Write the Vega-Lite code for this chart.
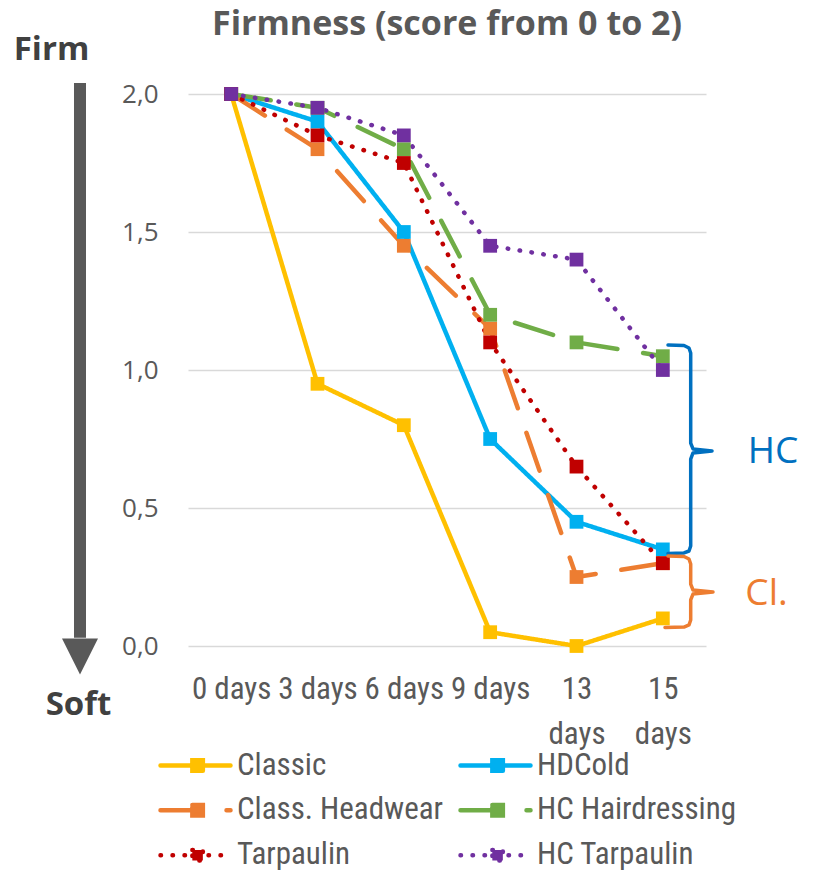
{
  "$schema": "https://vega.github.io/schema/vega-lite/v6.json",
  "width": 518,
  "height": 552,
  "autosize": {"type": "none"},
  "padding": {"left": 188, "top": 94, "right": 107, "bottom": 224},
  "background": "white",
  "config": {"view": {"stroke": null}},
  "title": {"text": "Firmness (score from 0 to 2)", "font": "Open Sans", "fontWeight": "bold", "fontSize": 34, "color": "#595959", "anchor": "middle", "offset": -8},
  "resolve": {"scale": {"x": "independent"}, "axis": {"x": "independent"}},
  "layer": [
    {
      "data": {"values": [
        {"day": "0 days", "series": "Classic", "score": 2.0},
        {"day": "3 days", "series": "Classic", "score": 0.95},
        {"day": "6 days", "series": "Classic", "score": 0.8},
        {"day": "9 days", "series": "Classic", "score": 0.05},
        {"day": "13 days", "series": "Classic", "score": 0.0},
        {"day": "15 days", "series": "Classic", "score": 0.1},
        {"day": "0 days", "series": "HDCold", "score": 2.0},
        {"day": "3 days", "series": "HDCold", "score": 1.9},
        {"day": "6 days", "series": "HDCold", "score": 1.5},
        {"day": "9 days", "series": "HDCold", "score": 0.75},
        {"day": "13 days", "series": "HDCold", "score": 0.45},
        {"day": "15 days", "series": "HDCold", "score": 0.35},
        {"day": "0 days", "series": "Class. Headwear", "score": 2.0},
        {"day": "3 days", "series": "Class. Headwear", "score": 1.8},
        {"day": "6 days", "series": "Class. Headwear", "score": 1.45},
        {"day": "9 days", "series": "Class. Headwear", "score": 1.15},
        {"day": "13 days", "series": "Class. Headwear", "score": 0.25},
        {"day": "15 days", "series": "Class. Headwear", "score": 0.3},
        {"day": "0 days", "series": "HC Hairdressing", "score": 2.0},
        {"day": "3 days", "series": "HC Hairdressing", "score": 1.95},
        {"day": "6 days", "series": "HC Hairdressing", "score": 1.8},
        {"day": "9 days", "series": "HC Hairdressing", "score": 1.2},
        {"day": "13 days", "series": "HC Hairdressing", "score": 1.1},
        {"day": "15 days", "series": "HC Hairdressing", "score": 1.05},
        {"day": "0 days", "series": "Tarpaulin", "score": 2.0},
        {"day": "3 days", "series": "Tarpaulin", "score": 1.85},
        {"day": "6 days", "series": "Tarpaulin", "score": 1.75},
        {"day": "9 days", "series": "Tarpaulin", "score": 1.1},
        {"day": "13 days", "series": "Tarpaulin", "score": 0.65},
        {"day": "15 days", "series": "Tarpaulin", "score": 0.3},
        {"day": "0 days", "series": "HC Tarpaulin", "score": 2.0},
        {"day": "3 days", "series": "HC Tarpaulin", "score": 1.95},
        {"day": "6 days", "series": "HC Tarpaulin", "score": 1.85},
        {"day": "9 days", "series": "HC Tarpaulin", "score": 1.45},
        {"day": "13 days", "series": "HC Tarpaulin", "score": 1.4},
        {"day": "15 days", "series": "HC Tarpaulin", "score": 1.0}
      ]},
      "layer": [
        {
          "mark": {"type": "line", "strokeCap": "round", "strokeJoin": "round"},
          "encoding": {
            "x": {"field": "day", "type": "ordinal", "sort": ["0 days", "3 days", "6 days", "9 days", "13 days", "15 days"], "scale": {"type": "point", "padding": 0.5},
              "axis": {"title": null, "domain": false, "ticks": false, "tickSize": 0, "grid": false, "labelFont": "Liberation Sans Narrow, Roboto Condensed, Liberation Sans, sans-serif", "labelFontSize": 31, "labelColor": "#595959", "labelPadding": 52, "labelBaseline": "alphabetic", "labelLineHeight": 45, "labelAngle": 0, "labelOverlap": false, "labelBound": false, "labelFlush": false, "labelExpr": "length(datum.label) > 6 ? split(datum.label, ' ') : datum.label"}},
            "y": {"field": "score", "type": "quantitative", "scale": {"domain": [0, 2], "nice": false, "zero": false}, "title": null,
              "axis": {"title": null, "values": [0, 0.5, 1, 1.5, 2], "format": ".1f", "labelExpr": "replace(datum.label, '.', ',')", "domain": false, "ticks": false, "tickSize": 0, "labelPadding": 30, "labelFont": "Open Sans", "labelFontSize": 26, "labelColor": "#595959", "grid": true, "gridColor": "#D9D9D9", "gridWidth": 1.5}},
            "color": {"field": "series", "type": "nominal",
              "scale": {"domain": ["Classic", "HDCold", "Class. Headwear", "HC Hairdressing", "Tarpaulin", "HC Tarpaulin"], "range": ["#FFC000", "#00B0F0", "#ED7D31", "#70AD47", "#C00000", "#7030A0"]},
              "legend": {"orient": "none", "legendX": -30, "legendY": 649, "columns": 2, "direction": "horizontal", "title": null, "symbolType": "M-1,0H1M-0.09,-0.15H0.21V0.15H-0.09Z", "symbolSize": 4900, "symbolStrokeWidth": 4.5, "clipHeight": 44.5, "labelFont": "Liberation Sans Narrow, Roboto Condensed, Liberation Sans, sans-serif", "labelFontSize": 31, "labelColor": "#595959", "labelOffset": 4, "columnPadding": 14, "rowPadding": 0, "labelLimit": 0, "symbolOpacity": 1,
                "encode": {"symbols": {"update": {"fill": {"scale": "color", "field": "value"}, "fillOpacity": {"value": 1}, "strokeCap": {"value": "round"}}}}}},
            "strokeDash": {"field": "series", "type": "nominal",
              "scale": {"domain": ["Classic", "HDCold", "Class. Headwear", "HC Hairdressing", "Tarpaulin", "HC Tarpaulin"], "range": [[1, 0], [1, 0], [40, 26], [40, 26], [0.5, 11.5], [0.5, 11.5]]}},
            "strokeWidth": {"field": "series", "type": "nominal", "legend": null,
              "scale": {"domain": ["Classic", "HDCold", "Class. Headwear", "HC Hairdressing", "Tarpaulin", "HC Tarpaulin"], "range": [4.5, 4.5, 4.5, 4.5, 5.5, 5.5]}}
          }
        },
        {
          "mark": {"type": "point", "shape": "square", "filled": true, "size": 190, "opacity": 1, "strokeWidth": 0},
          "encoding": {
            "x": {"field": "day", "type": "ordinal", "sort": ["0 days", "3 days", "6 days", "9 days", "13 days", "15 days"], "scale": {"type": "point", "padding": 0.5}},
            "y": {"field": "score", "type": "quantitative", "scale": {"domain": [0, 2], "nice": false, "zero": false}, "title": null},
            "fill": {"field": "series", "type": "nominal", "legend": null,
              "scale": {"domain": ["Classic", "HDCold", "Class. Headwear", "HC Hairdressing", "Tarpaulin", "HC Tarpaulin"], "range": ["#FFC000", "#00B0F0", "#ED7D31", "#70AD47", "#C00000", "#7030A0"]}}
          }
        }
      ]
    },
    {
      "data": {"values": [
        {"bracket": "HC", "pt": 1, "bx": 5.5598, "score": 1.0906},
        {"bracket": "HC", "pt": 2, "bx": 5.7452, "score": 1.0888},
        {"bracket": "HC", "pt": 3, "bx": 5.8031, "score": 1.0797},
        {"bracket": "HC", "pt": 4, "bx": 5.8228, "score": 1.0616},
        {"bracket": "HC", "pt": 5, "bx": 5.8228, "score": 0.7355},
        {"bracket": "HC", "pt": 6, "bx": 5.8494, "score": 0.7138},
        {"bracket": "HC", "pt": 7, "bx": 6.0695, "score": 0.7065},
        {"bracket": "HC", "pt": 8, "bx": 5.8494, "score": 0.6993},
        {"bracket": "HC", "pt": 9, "bx": 5.8228, "score": 0.6775},
        {"bracket": "HC", "pt": 10, "bx": 5.8228, "score": 0.3623},
        {"bracket": "HC", "pt": 11, "bx": 5.8031, "score": 0.3442},
        {"bracket": "HC", "pt": 12, "bx": 5.7452, "score": 0.337},
        {"bracket": "HC", "pt": 13, "bx": 5.5598, "score": 0.3351},
        {"bracket": "Cl.", "pt": 1, "bx": 5.5598, "score": 0.3261},
        {"bracket": "Cl.", "pt": 2, "bx": 5.7452, "score": 0.3243},
        {"bracket": "Cl.", "pt": 3, "bx": 5.8031, "score": 0.3152},
        {"bracket": "Cl.", "pt": 4, "bx": 5.8228, "score": 0.2971},
        {"bracket": "Cl.", "pt": 5, "bx": 5.8228, "score": 0.2246},
        {"bracket": "Cl.", "pt": 6, "bx": 5.8494, "score": 0.2029},
        {"bracket": "Cl.", "pt": 7, "bx": 6.0811, "score": 0.1957},
        {"bracket": "Cl.", "pt": 8, "bx": 5.8494, "score": 0.1884},
        {"bracket": "Cl.", "pt": 9, "bx": 5.8228, "score": 0.1667},
        {"bracket": "Cl.", "pt": 10, "bx": 5.8228, "score": 0.0942},
        {"bracket": "Cl.", "pt": 11, "bx": 5.8031, "score": 0.0761},
        {"bracket": "Cl.", "pt": 12, "bx": 5.7452, "score": 0.0688},
        {"bracket": "Cl.", "pt": 13, "bx": 5.525, "score": 0.067}
      ]},
      "mark": {"type": "line", "strokeWidth": 3.5, "strokeCap": "round", "strokeJoin": "round", "clip": false},
      "encoding": {
        "x": {"field": "bx", "type": "quantitative", "scale": {"domain": [0, 6], "nice": false, "zero": false}, "axis": null},
        "y": {"field": "score", "type": "quantitative", "scale": {"domain": [0, 2], "nice": false, "zero": false}, "title": null},
        "order": {"field": "pt", "type": "quantitative"},
        "detail": {"field": "bracket", "type": "nominal"},
        "stroke": {"condition": {"test": "datum.bracket === 'HC'", "value": "#0070C0"}, "value": "#ED7D31"}
      }
    },
    {
      "data": {"values": [
        {"label": "HC", "bx": 6.776, "score": 0.704},
        {"label": "Cl.", "bx": 6.701, "score": 0.188}
      ]},
      "mark": {"type": "text", "font": "Open Sans", "fontSize": 37, "align": "center", "baseline": "middle", "clip": false},
      "encoding": {
        "x": {"field": "bx", "type": "quantitative", "scale": {"domain": [0, 6], "nice": false, "zero": false}, "axis": null},
        "y": {"field": "score", "type": "quantitative", "scale": {"domain": [0, 2], "nice": false, "zero": false}, "title": null},
        "text": {"field": "label", "type": "nominal"},
        "color": {"condition": {"test": "datum.label === 'HC'", "value": "#0070C0"}, "value": "#ED7D31"}
      }
    },
    {
      "data": {"values": [
        {"label": "Firm", "bx": -1.581, "score": 2.159},
        {"label": "Soft", "bx": -1.268, "score": -0.214}
      ]},
      "mark": {"type": "text", "font": "Open Sans", "fontWeight": "bold", "fontSize": 33, "align": "center", "baseline": "middle", "color": "#404040", "clip": false},
      "encoding": {
        "x": {"field": "bx", "type": "quantitative", "scale": {"domain": [0, 6], "nice": false, "zero": false}, "axis": null},
        "y": {"field": "score", "type": "quantitative", "scale": {"domain": [0, 2], "nice": false, "zero": false}, "title": null},
        "text": {"field": "label", "type": "nominal"}
      }
    },
    {
      "data": {"values": [{"bx": -1.251, "score": 2.04, "score_end": 0.03}]},
      "mark": {"type": "rule", "strokeWidth": 12, "color": "#595959", "strokeCap": "butt", "clip": false},
      "encoding": {
        "x": {"field": "bx", "type": "quantitative", "scale": {"domain": [0, 6], "nice": false, "zero": false}, "axis": null},
        "y": {"field": "score", "type": "quantitative", "scale": {"domain": [0, 2], "nice": false, "zero": false}, "title": null},
        "y2": {"field": "score_end"}
      }
    },
    {
      "data": {"values": [{"bx": -1.251, "score": -0.038}]},
      "mark": {"type": "point", "shape": "M-1,-1L1,-1L0,1Z", "size": 1296, "filled": true, "color": "#595959", "opacity": 1, "strokeWidth": 0, "clip": false},
      "encoding": {
        "x": {"field": "bx", "type": "quantitative", "scale": {"domain": [0, 6], "nice": false, "zero": false}, "axis": null},
        "y": {"field": "score", "type": "quantitative", "scale": {"domain": [0, 2], "nice": false, "zero": false}, "title": null}
      }
    }
  ]
}
